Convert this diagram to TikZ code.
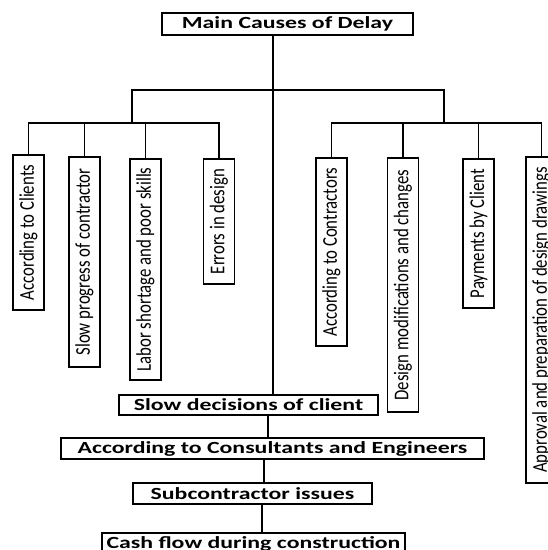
\documentclass[tikz,border=0pt]{standalone}
\usepackage{fontspec}
\setmainfont{Carlito}
\newfontfamily\widefont[FakeStretch=1.4]{Carlito}
\newfontfamily\narrowfont[FakeStretch=0.8]{Carlito}
\usepackage{tikz}
\usetikzlibrary{calc}
\tikzset{
    headbox/.style={draw, line width=1.3pt, inner sep=0pt, font=\widefont\bfseries\fontsize{17}{20}\selectfont},
    causebox/.style={draw, line width=1.3pt, rotate=90, inner sep=0pt, minimum height=31pt, font=\narrowfont\fontsize{21}{24}\selectfont},
    link/.style={line width=1.5pt, line cap=rect}}

\begin{document}
\begin{tikzpicture}[x=1pt,y=-1pt]
\useasboundingbox (0,0) rectangle (548,550);
\clip (0,0) rectangle (548,550);

\coordinate (spA) at (273,0);
\coordinate (spB) at (268,0);
\coordinate (spC) at (264,0);
\coordinate (spD) at (262,0);
\coordinate (bar1) at (132,90);
\coordinate (bar2) at (444,90);
\coordinate (L) at (0,123);

\node[headbox, minimum width=251pt, minimum height=22pt] (main) at (287.5,24) {Main Causes of Delay};

% left branch
\node[causebox, minimum width=155pt] (clients) at (28.5,232.5) {According to Clients};
\node[causebox, minimum width=210pt] (progress) at (84.5,262) {Slow progress of contractor};
\node[causebox, minimum width=221pt] (labor) at (145.5,269.5) {Labor shortage and poor skills};
\node[causebox, minimum width=125pt] (errors) at (219,221.5) {Errors in design};

% right branch
\node[causebox, minimum width=188pt] (contractors) at (331.5,252) {According to Contractors};
\node[causebox, minimum width=254pt] (modif) at (403,285) {Design modifications and changes};
\node[causebox, minimum width=149pt] (payments) at (478.5,233.5) {Payments by Client};
\node[causebox, minimum width=326pt] (approval) at (541.5,320) {Approval and preparation of design drawings};

% spine
\node[headbox, minimum width=259pt, minimum height=20pt] (slow) at (248.5,405) {Slow decisions of client};
\node[headbox, minimum width=423pt, minimum height=21pt] (consult) at (272.5,448.5) {According to Consultants and Engineers};
\node[headbox, minimum width=239pt, minimum height=21pt] (subcon) at (252.5,493.5) {Subcontractor issues};
\node[headbox, minimum width=303pt, minimum height=21pt] (cash) at (253.5,543.5) {Cash flow during construction};

\draw [link] (main.south -| spA) -- (slow.north -| spA);
\draw [link] (slow.south -| spB) -- (consult.north -| spB);
\draw [link] (consult.south -| spC) -- (subcon.north -| spC);
\draw [link] (subcon.south -| spD) -- (cash.north -| spD);

\draw [link] (bar1) -- (bar2);
\draw [link] (bar1) -- (bar1 |- L);
\draw [link] (bar2) -- (bar2 |- L);
\draw [link] (clients.east |- L) -- (errors.east |- L);
\draw [link] (contractors.east |- L) -- (approval.east |- L);

\draw [link] (clients.east |- L) -- (clients.east);
\draw [link] (progress.east |- L) -- (progress.east);
\draw [link] (labor.east |- L) -- (labor.east);
\draw [link] (errors.east |- L) -- (errors.east);
\draw [link] (contractors.east |- L) -- (contractors.east);
\draw [link] (modif.east |- L) -- (modif.east);
\draw [link] (payments.east |- L) -- (payments.east);
\draw [link] (approval.east |- L) -- (approval.east);
\end{tikzpicture}
\end{document}
